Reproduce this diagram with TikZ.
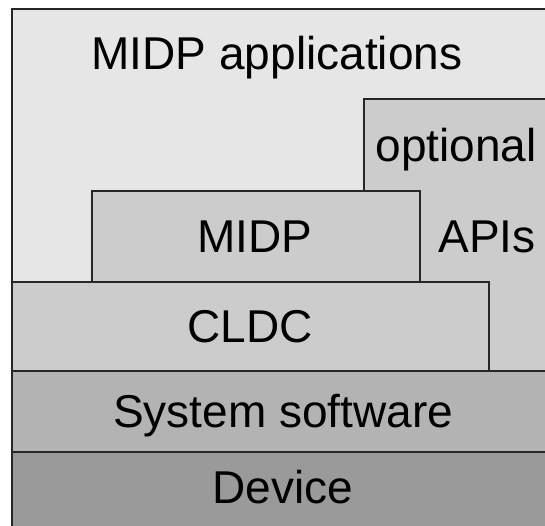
\documentclass[tikz,border=0pt]{standalone}
\usepackage{fontspec}
\setmainfont{Liberation Sans}
\usetikzlibrary{positioning}
\definecolor{appsgray}{HTML}{E6E6E6}
\definecolor{stackgray}{HTML}{CCCCCC}
\definecolor{sysgray}{HTML}{B3B3B3}
\definecolor{devgray}{HTML}{9A9A9A}
\tikzset{
    x=1pt, y=-1pt, % work in pixel units, y going down
    layer/.style={draw=black!85, line width=1.6pt}, % the stacked boxes
    label/.style={anchor=base, inner sep=0pt, font=\fontsize{46}{50}\selectfont}, % box captions
}

\begin{document}
\begin{tikzpicture}
    \useasboundingbox (0,0) rectangle (545,526);
    \clip (0,0) rectangle (545,526);
    % layers, back to front
    \filldraw[layer, fill=appsgray]  (12,9)   rectangle (556,545);
    \filldraw[layer, fill=stackgray] (364,99) rectangle (556,371);
    \filldraw[layer, fill=stackgray] (92,191) rectangle (420,282);
    \filldraw[layer, fill=stackgray] (12,282) rectangle (489,371);
    \filldraw[layer, fill=sysgray]   (12,371) rectangle (556,452);
    \filldraw[layer, fill=devgray]   (12,452) rectangle (556,545);
    % captions
    \node[label] (apps) at (277,70)  {MIDP applications};
    \node[label] (opt)  at (456,162) {optional};
    \node[label] (apis) at (487,252) {APIs};
    \node[label] (midp) at (255,252) {MIDP};
    \node[label] (cldc) at (250,342) {CLDC};
    \node[label] (sys)  at (283,427) {System software};
    \node[label] (dev)  at (283,503) {Device};
\end{tikzpicture}
\end{document}
